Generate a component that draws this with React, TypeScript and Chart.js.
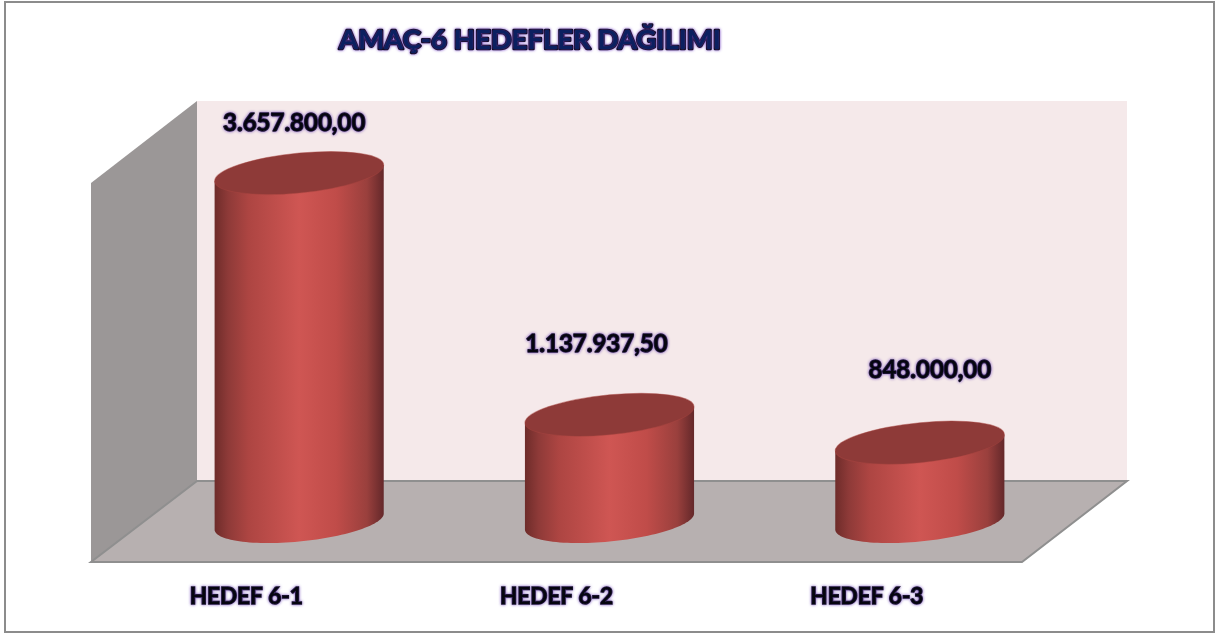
import React, { useEffect, useRef } from "react";
import { Chart, registerables } from "chart.js";

Chart.register(...registerables);

const chartTitle = "AMAÇ-6 HEDEFLER DAĞILIMI";
const categories = ["HEDEF 6-1", "HEDEF 6-2", "HEDEF 6-3"];
const hedefValues = [3657800.0, 1137937.5, 848000.0];
const valueLabels = ["3.657.800,00", "1.137.937,50", "848.000,00"];
const axisMax = 3950000;

// presentation constants
const LABEL_FONT = "bold 24px Lato, Carlito, 'Open Sans', sans-serif";
const DEPTH_X = 105;
const DEPTH_Y = 81;
const labelOffsets = [
  { dx: -5, dy: -50 },
  { dx: -13, dy: -71 },
  { dx: 10, dy: -72 },
];

const glowOn = (ctx: CanvasRenderingContext2D) => {
  ctx.shadowColor = "rgba(120,80,190,0.85)";
  ctx.shadowBlur = 3;
  ctx.shadowOffsetX = 0;
  ctx.shadowOffsetY = 0;
};
const glowOff = (ctx: CanvasRenderingContext2D) => {
  ctx.shadowColor = "rgba(0,0,0,0)";
  ctx.shadowBlur = 0;
};

const poly = (ctx: CanvasRenderingContext2D, pts: number[][], fill: string) => {
  ctx.beginPath();
  pts.forEach((p, i) => (i ? ctx.lineTo(p[0], p[1]) : ctx.moveTo(p[0], p[1])));
  ctx.closePath();
  ctx.fillStyle = fill;
  ctx.fill();
};

const wallsPlugin = {
  id: "walls",
  beforeDraw(chart: any) {
    const { ctx, chartArea: a } = chart;
    const { left: l, right: r, top: t, bottom: b } = a;
    const backL = l + DEPTH_X + 1;
    ctx.save();
    ctx.fillStyle = "#ffffff";
    ctx.fillRect(0, 0, chart.width, chart.height);
    ctx.strokeStyle = "#8c8c8c";
    ctx.lineWidth = 2;
    ctx.strokeRect(5, 2, chart.width - 6, chart.height - 3);
    // back wall
    poly(ctx, [[backL, t - 82], [r + DEPTH_X, t - 82], [r + DEPTH_X, b - DEPTH_Y], [backL, b - DEPTH_Y]], "#f5e9ea");
    // side wall
    poly(ctx, [[l, t], [backL, t - 82], [backL, b - DEPTH_Y], [l, b]], "#9b9797");
    // floor
    poly(ctx, [[l, b], [backL, b - DEPTH_Y], [r + DEPTH_X, b - DEPTH_Y], [r, b]], "#b7b0b0");
    ctx.strokeStyle = "#8f8f8f";
    ctx.lineWidth = 2;
    ctx.beginPath();
    ctx.moveTo(l, b);
    ctx.lineTo(r, b);
    ctx.lineTo(r + DEPTH_X, b - DEPTH_Y);
    ctx.lineTo(backL, b - DEPTH_Y);
    ctx.closePath();
    ctx.moveTo(l, b);
    ctx.stroke();
    ctx.restore();
    glowOn(ctx);
  },
  beforeDatasetsDraw(chart: any) {
    glowOff(chart.ctx);
  },
  afterDatasetsDraw(chart: any) {
    const ctx: CanvasRenderingContext2D = chart.ctx;
    const meta = chart.getDatasetMeta(0);
    meta.data.forEach((bar: any, i: number) => {
      const cx = bar.x + 53;
      const rx = bar.width / 2;
      const ry = 20;
      const tilt = -8 / rx;
      const baseY = bar.base - DEPTH_Y / 2;
      const topY = bar.y - DEPTH_Y / 2 + 2.5;

      // cylinder body
      const g = ctx.createLinearGradient(cx - rx, 0, cx + rx, 0);
      g.addColorStop(0, "#6e2c2a");
      g.addColorStop(0.08, "#8e3a38");
      g.addColorStop(0.2, "#ad4542");
      g.addColorStop(0.5, "#cf5653");
      g.addColorStop(0.72, "#c04c49");
      g.addColorStop(0.9, "#9a403d");
      g.addColorStop(1, "#64282a");
      ctx.save();
      ctx.beginPath();
      ctx.moveTo(cx - rx, topY + 8);
      ctx.lineTo(cx - rx, baseY + 8);
      for (let deg = 180; deg >= 0; deg -= 3) {
        const th = (deg * Math.PI) / 180;
        const x = rx * Math.cos(th);
        ctx.lineTo(cx + x, baseY + tilt * x + ry * Math.sin(th));
      }
      ctx.lineTo(cx + rx, topY - 8);
      ctx.closePath();
      ctx.fillStyle = g;
      ctx.fill();
      ctx.restore();

      // top cap
      ctx.save();
      ctx.transform(1, tilt, 0, 1, cx, topY);
      ctx.beginPath();
      ctx.ellipse(0, 0, rx, ry, 0, 0, Math.PI * 2);
      ctx.fillStyle = "#8e3a38";
      ctx.fill();
      ctx.strokeStyle = "rgba(170,70,66,0.45)";
      ctx.lineWidth = 1;
      ctx.stroke();
      ctx.restore();

      // value label
      ctx.save();
      glowOn(ctx);
      ctx.font = LABEL_FONT;
      ctx.textAlign = "center";
      ctx.textBaseline = "middle";
      ctx.lineJoin = "round";
      ctx.strokeStyle = "#05050f";
      ctx.lineWidth = 1.4;
      ctx.fillStyle = "#05050f";
      const lx = cx + labelOffsets[i].dx;
      const ly = topY + labelOffsets[i].dy;
      ctx.strokeText(valueLabels[i], lx, ly);
      ctx.fillText(valueLabels[i], lx, ly);
      ctx.restore();
    });

    // chart title
    ctx.save();
    glowOn(ctx);
    ctx.shadowColor = "rgba(120,70,200,0.9)";
    ctx.font = "bold 27.5px Lato, Carlito, 'Open Sans', sans-serif";
    ctx.textAlign = "center";
    ctx.textBaseline = "middle";
    ctx.lineJoin = "round";
    ctx.strokeStyle = "#03050f";
    ctx.lineWidth = 2.6;
    ctx.fillStyle = "#0b2060";
    ctx.strokeText(chartTitle, 530, 40);
    ctx.fillText(chartTitle, 530, 40);
    ctx.restore();
  },
};

export default function App() {
  const ref = useRef<HTMLCanvasElement | null>(null);
  useEffect(() => {
    if (!ref.current) return;
    const chart = new Chart(ref.current, {
      type: "bar",
      data: {
        labels: categories,
        datasets: [
          {
            label: chartTitle,
            data: hedefValues,
            backgroundColor: "rgba(0,0,0,0)",
            borderWidth: 0,
            categoryPercentage: 1,
            barPercentage: 0.545,
          },
        ],
      },
      options: {
        responsive: false,
        animation: false,
        layout: { padding: { left: 91, right: 193, top: 183, bottom: 0 } },
        plugins: { legend: { display: false }, title: { display: false }, tooltip: { enabled: false } },
        scales: {
          x: {
            grid: { display: false },
            border: { display: false },
            afterFit: (s: any) => {
              s.height = 71;
            },
            ticks: {
              autoSkip: false,
              maxRotation: 0,
              padding: 13,
              color: "#05050f",
              textStrokeColor: "#05050f",
              textStrokeWidth: 1.4,
              font: { family: "Lato, Carlito, 'Open Sans', sans-serif", size: 22.5, weight: "bold" },
            },
          },
          y: { display: false, min: 0, max: axisMax },
        },
      },
      plugins: [wallsPlugin],
    } as any);
    return () => chart.destroy();
  }, []);
  return (
    <canvas
      ref={ref}
      width={1215}
      height={633}
      style={{ position: "absolute", left: 0, top: 0, display: "block" }}
    />
  );
}
